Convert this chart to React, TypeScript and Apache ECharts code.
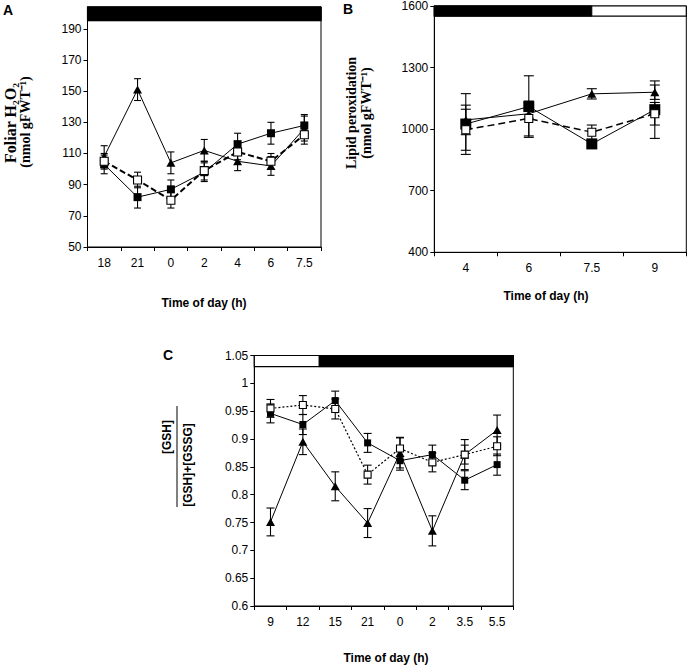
import React, { useEffect, useRef } from 'react';
import * as echarts from 'echarts';

// ---------- Panel A: foliar H2O2 ----------
const categoriesA = ['18', '21', '0', '2', '4', '6', '7.5'];
const triA = [108, 151, 104, 112, 105, 102, 126];
const triAErr = [7, 7, 7, 7, 6, 6, 8];
const fillA = [103, 82, 87, 98, 116, 123, 128];
const fillAErr = [6, 7, 6, 6, 7, 7, 7];
const openA = [105, 93, 80, 99, 111, 105, 122];
const openAErr = [5, 5, 5, 6, 5, 5, 6];
const ticksA = [50, 70, 90, 110, 130, 150, 170, 190];
const nightA = [-0.5, 6.5];
const barRangeA = [195.3, 204];

// ---------- Panel B: lipid peroxidation ----------
const categoriesB = ['4', '6', '7.5', '9'];
const triB = [1045, 1075, 1172, 1180];
const triBErr = [72, 25, 25, 35];
const fillB = [1025, 1110, 928, 1095];
const fillBErr = [148, 150, 15, 140];
const openB = [997, 1052, 985, 1075];
const openBErr = [100, 85, 35, 55];
const ticksB = [400, 700, 1000, 1300, 1600];
const nightB = [-0.5, 2];
const barRangeB = [1551, 1600];

// ---------- Panel C: GSH ratio ----------
const categoriesC = ['9', '12', '15', '21', '0', '2', '3.5', '5.5'];
const triC = [0.751, 0.895, 0.815, 0.749, 0.875, 0.735, 0.872, 0.916];
const triCErr = [0.025, 0.023, 0.026, 0.026, 0.027, 0.027, 0.027, 0.027];
const fillC = [0.946, 0.926, 0.969, 0.893, 0.861, 0.872, 0.826, 0.854];
const fillCErr = [0.017, 0.018, 0.017, 0.017, 0.017, 0.017, 0.017, 0.019];
const openC = [0.955, 0.961, 0.954, 0.836, 0.883, 0.858, 0.872, 0.887];
const openCErr = [0.016, 0.017, 0.018, 0.017, 0.02, 0.017, 0.017, 0.017];
const ticksC = [0.6, 0.65, 0.7, 0.75, 0.8, 0.85, 0.9, 0.95, 1, 1.05];
const nightC = [1.5, 7.5];
const barRangeC = [1.03, 1.05];

const SANS = '"Liberation Sans", Arial, sans-serif';
const SERIF = '"Liberation Serif", "Times New Roman", serif';

function errSeries(idx: number, vals: number[], errs: number[], cap: number) {
  return {
    type: 'custom',
    xAxisIndex: idx,
    yAxisIndex: idx,
    z: 1,
    silent: true,
    data: vals.map((v, i) => [i, v - errs[i], v + errs[i]]),
    encode: { x: 0, y: [1, 2] },
    renderItem: (params: any, api: any) => {
      const x = api.value(0);
      const lo = api.coord([x, api.value(1)]);
      const hi = api.coord([x, api.value(2)]);
      const h = cap / 2;
      const st = { stroke: '#000', lineWidth: 1.1 };
      return {
        type: 'group',
        children: [
          { type: 'line', shape: { x1: lo[0], y1: lo[1], x2: hi[0], y2: hi[1] }, style: st },
          { type: 'line', shape: { x1: lo[0] - h, y1: lo[1], x2: lo[0] + h, y2: lo[1] }, style: st },
          { type: 'line', shape: { x1: hi[0] - h, y1: hi[1], x2: hi[0] + h, y2: hi[1] }, style: st },
        ],
      };
    },
  };
}

function barSeries(idx: number, night: number[], range: number[]) {
  return {
    type: 'custom',
    xAxisIndex: idx,
    yAxisIndex: idx,
    z: 5,
    silent: true,
    clip: false,
    data: [[0, range[0]]],
    encode: { x: 0, y: 1 },
    renderItem: (params: any, api: any) => {
      const cs = params.coordSys;
      const bw = api.size([1, 0])[0];
      const c0 = api.coord([0, range[0]])[0];
      const yBot = api.coord([0, range[0]])[1];
      const yTop = api.coord([0, range[1]])[1];
      const xd0 = c0 + night[0] * bw;
      const xd1 = c0 + night[1] * bw;
      return {
        type: 'group',
        children: [
          {
            type: 'rect',
            shape: { x: cs.x, y: yTop, width: cs.width, height: yBot - yTop },
            style: { fill: '#fff', stroke: '#000', lineWidth: 1.2 },
          },
          {
            type: 'rect',
            shape: { x: xd0, y: yTop, width: xd1 - xd0, height: yBot - yTop },
            style: { fill: '#000', stroke: '#000', lineWidth: 1 },
          },
        ],
      };
    },
  };
}

function lineSeries(
  idx: number,
  vals: number[],
  kind: 'tri' | 'fill' | 'open',
  size: number,
  dash: any,
  width: number
) {
  const base: any = {
    type: 'line',
    xAxisIndex: idx,
    yAxisIndex: idx,
    data: vals,
    z: 3,
    silent: true,
    lineStyle: { color: '#000', width, type: dash },
  };
  if (kind === 'tri') {
    base.symbol = 'triangle';
    base.symbolSize = [size + 1, size];
    base.itemStyle = { color: '#000' };
  } else if (kind === 'fill') {
    base.symbol = 'rect';
    base.symbolSize = size;
    base.itemStyle = { color: '#000' };
  } else {
    base.symbol = 'rect';
    base.symbolSize = size;
    base.itemStyle = { color: '#fff', borderColor: '#000', borderWidth: 1.1 };
    base.z = 4;
  }
  return base;
}

function xAxis(idx: number, data: string[]) {
  return {
    type: 'category',
    gridIndex: idx,
    data,
    boundaryGap: true,
    axisLine: { lineStyle: { color: '#000', width: 1 } },
    axisTick: { show: true, length: 4, lineStyle: { color: '#000' } },
    axisLabel: { color: '#000', fontSize: 12, fontFamily: SANS, margin: 10 },
    splitLine: { show: false },
  };
}

function yAxis(idx: number, min: number, max: number, ticks: number[]) {
  return {
    type: 'value',
    gridIndex: idx,
    min,
    max,
    axisLine: { show: true, lineStyle: { color: '#000', width: 1 } },
    axisTick: { show: true, length: 4, lineStyle: { color: '#000' }, customValues: ticks },
    axisLabel: {
      color: '#000',
      fontSize: 12,
      fontFamily: SANS,
      margin: 6,
      customValues: ticks,
      formatter: (v: number) => String(Math.round(v * 1000) / 1000),
    },
    splitLine: { show: false },
  };
}

function txt(text: string, x: number, y: number, font: string, rot = 0) {
  return {
    type: 'text',
    x,
    y,
    rotation: rot,
    silent: true,
    style: {
      text,
      font,
      fill: '#000',
      textAlign: 'center',
      textVerticalAlign: 'middle',
      align: 'center',
      verticalAlign: 'middle',
    },
  };
}

export default function App() {
  const ref = useRef<HTMLDivElement>(null);
  useEffect(() => {
    if (!ref.current) return;
    const chart = echarts.init(ref.current, null, { renderer: 'svg' });
    const gridStyle = { show: true, borderColor: '#000', borderWidth: 1, backgroundColor: '#fff' };
    const R90 = Math.PI / 2;
    chart.setOption({
      animation: false,
      backgroundColor: '#fff',
      grid: [
        { left: 87.5, top: 7, width: 233.5, height: 240, ...gridStyle },
        { left: 434.3, top: 6, width: 252, height: 246.3, ...gridStyle },
        { left: 254.3, top: 355.5, width: 259, height: 250.5, ...gridStyle },
      ],
      xAxis: [xAxis(0, categoriesA), xAxis(1, categoriesB), xAxis(2, categoriesC)],
      yAxis: [
        yAxis(0, 50, 204, ticksA),
        yAxis(1, 400, 1600, ticksB),
        yAxis(2, 0.6, 1.05, ticksC),
      ],
      series: [
        barSeries(0, nightA, barRangeA),
        errSeries(0, triA, triAErr, 7),
        errSeries(0, fillA, fillAErr, 7),
        errSeries(0, openA, openAErr, 7),
        lineSeries(0, triA, 'tri', 8, 'solid', 1),
        lineSeries(0, fillA, 'fill', 8, 'solid', 1),
        lineSeries(0, openA, 'open', 8, [6, 3], 2),

        barSeries(1, nightB, barRangeB),
        errSeries(1, triB, triBErr, 10),
        errSeries(1, fillB, fillBErr, 10),
        errSeries(1, openB, openBErr, 10),
        lineSeries(1, triB, 'tri', 8, 'solid', 1),
        lineSeries(1, fillB, 'fill', 11, 'solid', 1),
        lineSeries(1, openB, 'open', 8, [7, 4], 1.5),

        barSeries(2, nightC, barRangeC),
        errSeries(2, triC, triCErr, 8),
        errSeries(2, fillC, fillCErr, 8),
        errSeries(2, openC, openCErr, 8),
        lineSeries(2, triC, 'tri', 8, 'solid', 1),
        lineSeries(2, fillC, 'fill', 7, 'solid', 1),
        lineSeries(2, openC, 'open', 7, [2, 2], 1.2),
      ],
      graphic: [
        txt('A', 8, 10, `bold 14px ${SANS}`),
        txt('B', 348, 9, `bold 14px ${SANS}`),
        txt('C', 168, 355, `bold 14px ${SANS}`),
        txt('Time of day (h)', 204, 303, `bold 12px ${SANS}`),
        txt('Time of day (h)', 546, 296, `bold 12px ${SANS}`),
        txt('Time of day (h)', 386, 658, `bold 12px ${SANS}`),
        txt('Foliar H₂O₂', 10, 123, `bold 16px ${SERIF}`, R90),
        txt('(nmol gFWT⁻¹)', 25, 122, `bold 14px ${SERIF}`, R90),
        txt('Lipid peroxidation', 351, 113, `bold 14px ${SERIF}`, R90),
        txt('(nmol gFWT⁻¹)', 366, 113, `bold 14px ${SERIF}`, R90),
        txt('[GSH]', 167, 437, `bold 12px ${SANS}`, R90),
        {
          type: 'line',
          silent: true,
          shape: { x1: 177, y1: 406, x2: 177, y2: 507 },
          style: { stroke: '#000', lineWidth: 1 },
        },
        txt('[GSH]+[GSSG]', 188, 465, `bold 12px ${SANS}`, R90),
      ],
    });
    return () => chart.dispose();
  }, []);
  return (
    <div
      ref={ref}
      style={{ position: 'absolute', left: 0, top: 0, width: 688, height: 666, background: '#fff' }}
    />
  );
}
